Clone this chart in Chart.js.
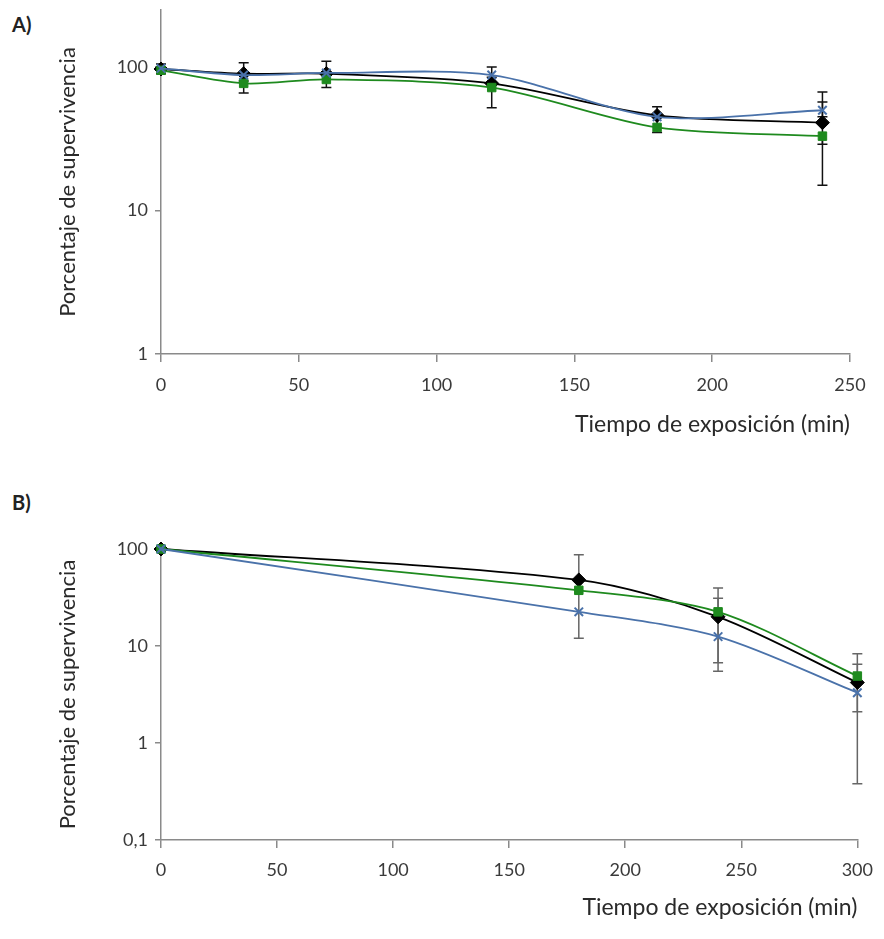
<!DOCTYPE html>
<html><head><meta charset="utf-8">
<script src="https://cdn.jsdelivr.net/npm/chart.js@4/dist/chart.umd.min.js"></script>
<style>
body{margin:0;background:#fff;width:884px;height:939px;position:relative;overflow:hidden;font-family:Lato,"Open Sans",sans-serif}
.lbl{position:absolute;font-weight:bold;font-size:20px;color:#222}
canvas{position:absolute;left:0}
</style></head><body>
<div class="lbl" style="left:12px;top:12px">A)</div>
<div class="lbl" style="left:12px;top:490px">B)</div>
<canvas id="ca" width="884" height="460" style="top:0"></canvas>
<canvas id="cb" width="884" height="479" style="top:460px"></canvas>
<script>
// ---------- Panel A data ----------
const timesA = [0, 30, 60, 120, 180, 240];
const blackA = [97, 90, 90, 77, 46, 41];
const greenA = [95, 77, 82, 72, 38, 33];
const blueA  = [98, 88, 91, 88, 45, 50];
const blackA_lo = [90, 80, 72, 52, 35, 15];
const blackA_hi = [105, 107, 110, 85, 53, 67];
const greenA_lo = [null, 66, null, null, null, 29];
const greenA_hi = [null, null, null, null, null, null];
const blueA_lo  = [null, null, null, null, null, 45];
const blueA_hi  = [null, null, null, 100, null, 57];
const yTicksA = [1, 10, 100];
const xTicksA = [0, 50, 100, 150, 200, 250];

// ---------- Panel B data ----------
const timesB = [0, 180, 240, 300];
const blackB = [100, 48, 20, 4.2];
const greenB = [100, 37.5, 22.5, 4.9];
const blueB  = [100, 22.5, 12.5, 3.3];
const blackB_lo = [null, 12, 5.5, 0.38];
const blackB_hi = [null, 87, 39.7, 8.3];
const greenB_lo = [null, null, 6.7, 2.1];
const greenB_hi = [null, null, 31, 6.5];
const yTicksB = [0.1, 1, 10, 100];
const xTicksB = [0, 50, 100, 150, 200, 250, 300];

const xTitle = 'Tiempo de exposición (min)';
const yTitle = 'Porcentaje de supervivencia';

const BLACK = '#000000', GREEN = '#1e8a1e', BLUE = '#4a72aa';
const FONT = 'Lato, "Open Sans", sans-serif';

function pts(xs, ys){ return xs.map((x,i)=>({x:x, y:ys[i]})); }

const errorBars = {
  id: 'errorBars',
  beforeDatasetsDraw(chart, args, opts){
    const {ctx, scales:{x, y}} = chart;
    ctx.save();
    ctx.lineWidth = opts.width || 1.5;
    (opts.sets || []).forEach(set => {
      ctx.strokeStyle = set.color;
      set.xs.forEach((xv, i) => {
        const lo = set.lo[i], hi = set.hi[i], v = set.v[i];
        const px = x.getPixelForValue(xv);
        const cap = 5;
        const draw = (a, b) => {
          ctx.beginPath();
          ctx.moveTo(px, y.getPixelForValue(a));
          ctx.lineTo(px, y.getPixelForValue(b));
          ctx.moveTo(px - cap, y.getPixelForValue(b));
          ctx.lineTo(px + cap, y.getPixelForValue(b));
          ctx.stroke();
        };
        if (lo != null) draw(v, lo);
        if (hi != null) draw(v, hi);
      });
    });
    ctx.restore();
  }
};

function makeChart(id, cfg){
  const datasets = [
    {data: pts(cfg.xs, cfg.blue), borderColor: BLUE, backgroundColor: BLUE, pointStyle: 'crossRot', pointRadius: 6, pointBorderWidth: 2},
    {data: pts(cfg.xs, cfg.green), borderColor: GREEN, backgroundColor: GREEN, pointStyle: 'rect', pointRadius: 6, pointBorderWidth: 1},
    {data: pts(cfg.xs, cfg.black), borderColor: BLACK, backgroundColor: BLACK, pointStyle: 'rectRot', pointRadius: 7, pointBorderWidth: 1}
  ].map(d => Object.assign(d, {borderWidth: 1.8, tension: 0.3, clip: false, fill: false}));
  return new Chart(document.getElementById(id), {
    type: 'line',
    data: {datasets},
    options: {
      responsive: false, animation: false,
      layout: {padding: cfg.padding},
      plugins: {legend: {display: false}, tooltip: {enabled: false}, errorBars: {sets: cfg.err, width: 1.5}},
      scales: {
        x: {
          type: 'linear', min: cfg.xmin, max: cfg.xmax,
          afterBuildTicks: s => { s.ticks = cfg.xticks.map(v => ({value: v})); },
          afterFit: s => { s.height = cfg.xh; },
          border: {color: '#8a8a8a', width: 1.5},
          grid: {display: true, drawOnChartArea: false, tickLength: 8, color: '#8a8a8a', lineWidth: 1.5},
          ticks: {color: '#3a3a3a', font: {family: FONT, size: 18}, padding: cfg.xtpad, maxRotation: 0, autoSkip: false},
          title: {display: true, text: xTitle, align: 'end', color: '#2a2a2a', font: {family: FONT, size: 23}, padding: {top: 0, bottom: cfg.xtitlePad}}
        },
        y: {
          type: 'logarithmic', min: cfg.ymin, max: cfg.ymax,
          afterBuildTicks: s => { s.ticks = cfg.yticks.map(v => ({value: v})); },
          afterFit: s => { s.width = cfg.yw; s.paddingTop = 0; s.paddingBottom = 0; },
          border: {color: '#8a8a8a', width: 1.5},
          grid: {display: true, drawOnChartArea: false, tickLength: 6, color: '#8a8a8a', lineWidth: 1.5},
          ticks: {color: '#3a3a3a', font: {family: FONT, size: 18}, padding: 7, autoSkip: false,
                  callback: v => String(v).replace('.', ',')},
          title: {display: true, text: yTitle, color: '#2a2a2a', font: {family: FONT, size: 22}, padding: {top: 0, bottom: 0}}
        }
      }
    },
    plugins: [errorBars]
  });
}

makeChart('ca', {
  xs: timesA, black: blackA, green: greenA, blue: blueA,
  xmin: 0, xmax: 250, ymin: 1, ymax: 250, xticks: xTicksA, yticks: yTicksA,
  padding: {left: 55, right: 34, top: 10, bottom: 0}, yw: 106, xh: 106, xtpad: 12, xtitlePad: 22,
  err: [
    {color: '#111', xs: timesA, v: blackA, lo: blackA_lo, hi: blackA_hi},
    {color: '#111', xs: timesA, v: greenA, lo: greenA_lo, hi: greenA_hi},
    {color: '#111', xs: timesA, v: blueA, lo: blueA_lo, hi: blueA_hi}
  ]
});

makeChart('cb', {
  xs: timesB, black: blackB, green: greenB, blue: blueB,
  xmin: 0, xmax: 300, ymin: 0.1, ymax: 100, xticks: xTicksB, yticks: yTicksB,
  padding: {left: 55, right: 20, top: 89, bottom: 0}, yw: 106, xh: 99, xtpad: 11, xtitlePad: 18,
  err: [
    {color: '#666', xs: timesB, v: blackB, lo: blackB_lo, hi: blackB_hi},
    {color: '#666', xs: timesB, v: greenB, lo: greenB_lo, hi: greenB_hi}
  ]
});
</script>
</body></html>
